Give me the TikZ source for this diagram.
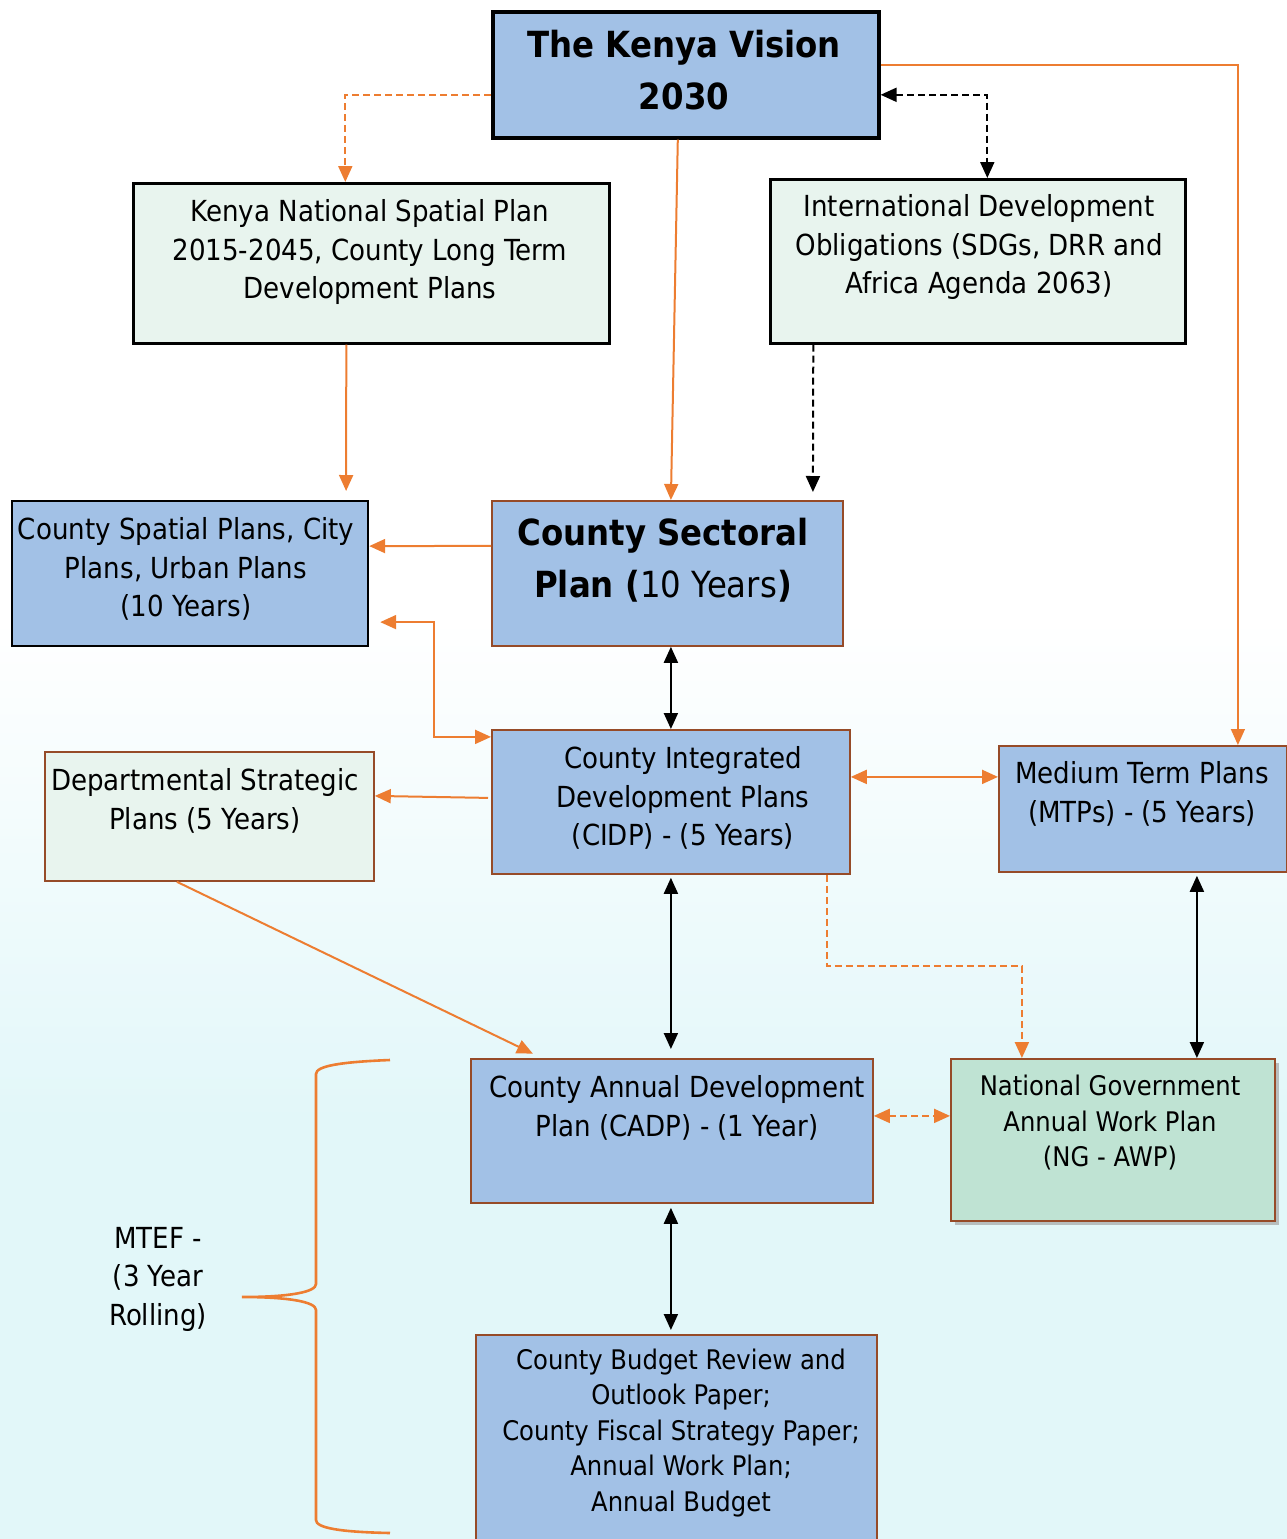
\documentclass[tikz,border=0pt]{standalone}
\usepackage{fontspec}
\setmainfont{DejaVu Sans}[FakeStretch=0.9]
\usetikzlibrary{arrows.meta,calc,shadows}
\definecolor{boxblue}{RGB}{162,193,230}
\definecolor{palegreen}{RGB}{232,244,238}
\definecolor{nggreen}{RGB}{191,227,211}
\definecolor{accent}{RGB}{237,125,49}
\definecolor{brownline}{RGB}{150,75,40}
\definecolor{bgcyan}{RGB}{226,247,249}
\begin{document}
\begin{tikzpicture}[x=1pt,y=-1pt,
  plan/.style={rectangle,inner sep=0pt,anchor=north west},
  darkframe/.style={plan,draw=black,line width=2.6pt},
  brownframe/.style={plan,draw=brownline,line width=1.8pt},
  txt/.style={align=center,inner sep=0pt,font=\fontsize{29}{38.5}\selectfont},
  bigtxt/.style={align=center,inner sep=0pt,font=\fontsize{36}{52}\selectfont},
  smalltxt/.style={align=center,inner sep=0pt,font=\fontsize{27}{35.5}\selectfont},
  tip/.style={-{Triangle[length=16pt,width=14pt]}},
  tips/.style={{Triangle[length=16pt,width=14pt]}-{Triangle[length=16pt,width=14pt]}},
  dsh/.style={dash pattern=on 7pt off 4pt},
  oline/.style={draw=accent,line width=2pt},
  kline/.style={draw=black,line width=2pt}
]
\useasboundingbox (0,0) rectangle (1287,1539);
\shade[top color=white,bottom color=bgcyan] (0,620) rectangle (1287,1120);
\fill[bgcyan] (0,1119) rectangle (1287,1539);

% boxes
\node[darkframe,line width=3.6pt,fill=boxblue,minimum width=386pt,minimum height=126pt] (vision) at (491,10) {};
\node[darkframe,fill=palegreen,minimum width=476pt,minimum height=160pt] (knsp) at (132,182) {};
\node[darkframe,fill=palegreen,minimum width=415pt,minimum height=164pt] (ido) at (769,178) {};
\node[darkframe,line width=2.2pt,fill=boxblue,minimum width=356pt,minimum height=145pt] (csp) at (11,500) {};
\node[brownframe,fill=boxblue,minimum width=351pt,minimum height=145pt] (sect) at (491,500) {};
\node[brownframe,fill=palegreen,minimum width=329pt,minimum height=129pt] (dept) at (44,751) {};
\node[brownframe,fill=boxblue,minimum width=358pt,minimum height=144pt] (cidp) at (491,729) {};
\node[brownframe,fill=boxblue,minimum width=288pt,minimum height=126pt] (mtp) at (998,745) {};
\node[brownframe,fill=boxblue,minimum width=402pt,minimum height=144pt] (cadp) at (470,1058) {};
\node[brownframe,fill=nggreen,minimum width=324pt,minimum height=162pt,
      drop shadow={shadow xshift=4pt,shadow yshift=-4pt,fill=black!35,opacity=0.7}] (ngawp) at (950,1058) {};
\node[brownframe,fill=boxblue,minimum width=401pt,minimum height=215pt] (budget) at (475,1334) {};

% texts
\node[bigtxt] (visiontxt) at (684,70) {\textbf{The Kenya Vision}\\\textbf{2030}};
\node[txt] (knsptxt) at (370,252) {Kenya National Spatial Plan\\2015-2045, County Long Term\\Development Plans};
\node[txt] (idotxt) at (979,247) {International Development\\Obligations (SDGs, DRR and\\Africa Agenda 2063)};
\node[txt] (csptxt) at (186,569) {County Spatial Plans, City\\Plans, Urban Plans\\(10 Years)};
\node[bigtxt] (secttxt) at (663,560) {\textbf{County Sectoral}\\\textbf{Plan (}10 Years\textbf{)}};
\node[txt] (depttxt) at (205,801) {Departmental Strategic\\Plans (5 Years)};
\node[txt] (cidptxt) at (683,798) {County Integrated\\Development Plans\\(CIDP) - (5 Years)};
\node[txt] (mtptxt) at (1142,794) {Medium Term Plans\\(MTPs) - (5 Years)};
\node[txt] (cadptxt) at (677,1108) {County Annual Development\\Plan (CADP) - (1 Year)};
\node[smalltxt] (ngtxt) at (1110,1123) {National Government\\Annual Work Plan\\(NG - AWP)};
\node[smalltxt] (budgettxt) at (681,1433) {County Budget Review and\\Outlook Paper;\\County Fiscal Strategy Paper;\\Annual Work Plan;\\Annual Budget};
\node[txt] (mteftxt) at (158,1279) {MTEF -\\(3 Year\\Rolling)};

% connectors
\draw[oline,dsh,tip] ([yshift=-20pt]vision.west) -| ([xshift=-26pt]knsp.north);
\draw[oline,tip] ([xshift=-8pt]vision.south) -- ([xshift=3.5pt]sect.north);
\draw[oline,line width=1.4pt,tip] ([yshift=10pt]vision.east) -| ([xshift=95pt]mtp.north);
\draw[kline,dsh,tips] ([yshift=-20pt]vision.east) -| ([xshift=9.5pt]ido.north);
\draw[oline,tip,shorten >=9pt] ([xshift=-25pt]knsp.south) -- ([xshift=156pt]csp.north);
\draw[kline,dsh,tip,shorten >=8pt] ([xshift=-164.5pt]ido.south) -- ([xshift=145.5pt]sect.north);
\draw[oline,tip] ([yshift=27.5pt]sect.west) -- ([yshift=27.5pt]csp.east);
\draw[oline,tips] ([yshift=65pt]cidp.west) -- ++(-57,0) |- ([xshift=11pt,yshift=-48.5pt]csp.east);
\draw[kline,tips] ([xshift=3.5pt]sect.south) -- (cidp.north);
\draw[oline,tip] ([xshift=-3pt,yshift=4pt]cidp.west) -- ([yshift=20.5pt]dept.east);
\draw[oline,tips] ([yshift=25pt]cidp.east) -- ([yshift=32pt]mtp.west);
\draw[kline,tips,shorten <=3pt,shorten >=9pt] (cidp.south) -- ([xshift=-1pt]cadp.north);
\draw[oline,dsh,tip] ([xshift=156pt]cidp.south) -- ++(0,91) -| ([xshift=-91pt]ngawp.north);
\draw[kline,tips,shorten <=3pt] ([xshift=54pt]mtp.south) -- ([xshift=84pt]ngawp.north);
\draw[oline,tip,shorten >=10pt] ([xshift=-32.5pt]dept.south) -- ([xshift=-130pt]cadp.north);
\draw[oline,dsh,tips] ([yshift=15pt]cadp.east) -- ([yshift=24pt]ngawp.west);
\draw[kline,tips,shorten <=4pt,shorten >=4pt] ([xshift=-1pt]cadp.south) -- ([xshift=-5.5pt]budget.north);

% brace
\draw[accent,line width=2.6pt] (390,1060) .. controls (340,1062) and (316,1066) .. (316,1074) -- (316,1284)
  .. controls (316,1292) and (290,1297) .. (242,1297)
  .. controls (290,1297) and (316,1302) .. (316,1310) -- (316,1520)
  .. controls (316,1528) and (340,1532) .. (390,1533);
\end{tikzpicture}
\end{document}
